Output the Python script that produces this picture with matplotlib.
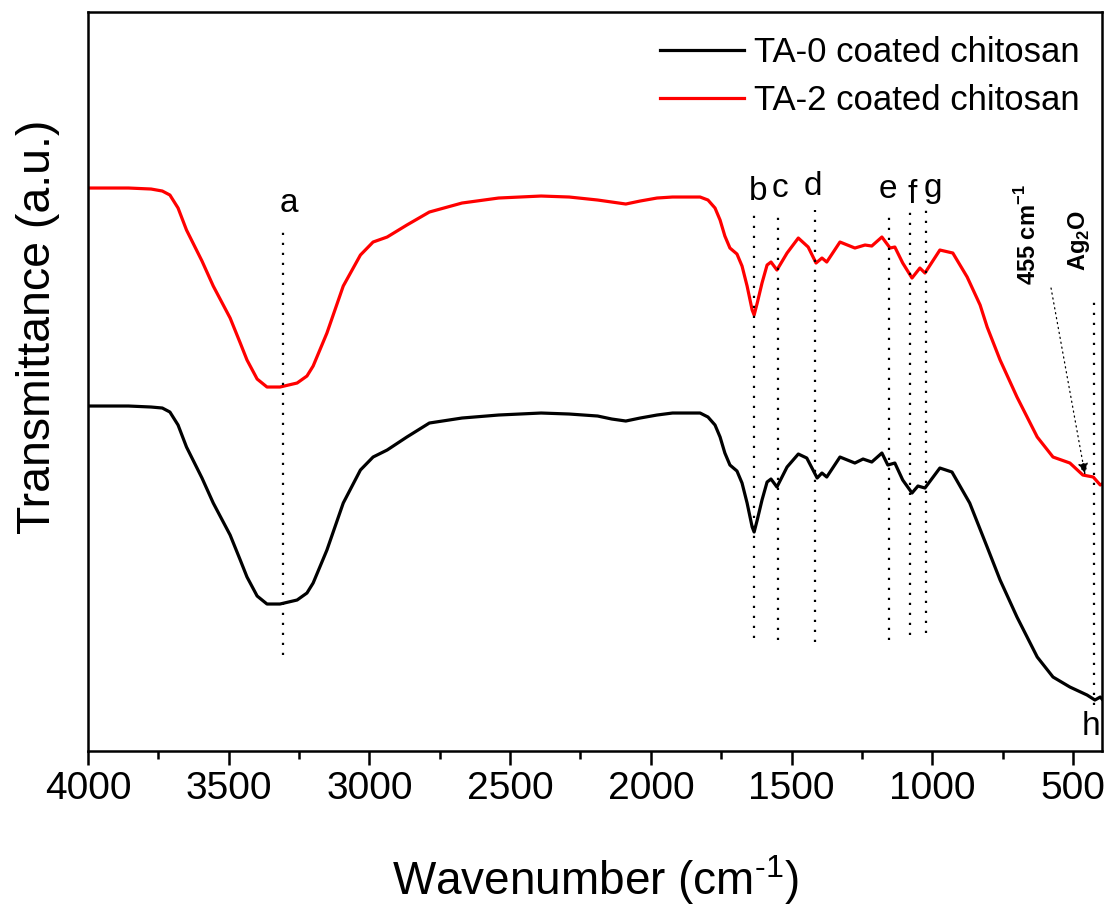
import numpy as np
import matplotlib
matplotlib.use('Agg')
import matplotlib.pyplot as plt
from matplotlib.ticker import MultipleLocator

plt.rcParams['font.family'] = ['Liberation Sans', 'DejaVu Sans']
plt.rcParams['mathtext.fontset'] = 'custom'
plt.rcParams['mathtext.rm'] = 'Liberation Sans'
plt.rcParams['mathtext.bf'] = 'Liberation Sans:bold'

# TA-0 coated chitosan
wn_ta0 = [4000, 3856, 3776, 3736, 3709, 3680, 3650, 3595, 3555, 3495, 3459, 3435, 3399, 3364,
          3318, 3257, 3222, 3200, 3151, 3093, 3032, 2987, 2937, 2867, 2787, 2671, 2541, 2390,
          2290, 2189, 2139, 2089, 2038, 1978, 1923, 1825, 1797, 1772, 1754, 1737, 1719, 1694,
          1676, 1658, 1640, 1633, 1622, 1605, 1587, 1573, 1552, 1516, 1476, 1446, 1409, 1392,
          1375, 1328, 1275, 1246, 1215, 1179, 1158, 1133, 1105, 1072, 1051, 1026, 973, 930,
          867, 805, 759, 699, 627, 571, 511, 450, 422, 403, 397]
t_ta0 = [31.4, 31.4, 31.3, 31.2, 30.8, 29.5, 27.3, 24.2, 21.7, 18.5, 16.0, 14.3, 12.4, 11.6,
         11.6, 12.0, 12.7, 13.7, 17.0, 21.7, 25.0, 26.3, 27.0, 28.3, 29.7, 30.2, 30.5, 30.7,
         30.6, 30.4, 30.1, 29.9, 30.2, 30.5, 30.7, 30.7, 30.3, 29.5, 28.3, 26.7, 25.5, 24.9,
         23.7, 21.7, 19.3, 18.8, 20.0, 22.0, 23.8, 24.1, 23.3, 25.3, 26.6, 26.2, 24.2, 24.7,
         24.3, 26.3, 25.7, 26.1, 25.8, 26.7, 25.5, 25.7, 24.0, 22.7, 23.4, 23.2, 25.2, 24.8,
         21.7, 17.3, 14.0, 10.3, 6.3, 4.3, 3.3, 2.5, 2.0, 2.3, 2.1]

# TA-2 coated chitosan
wn_ta2 = [4000, 3856, 3776, 3736, 3709, 3680, 3650, 3595, 3555, 3495, 3459, 3435, 3399, 3364,
          3318, 3257, 3222, 3200, 3151, 3093, 3032, 2987, 2937, 2867, 2787, 2671, 2541, 2390,
          2290, 2189, 2139, 2089, 2038, 1978, 1923, 1825, 1797, 1772, 1754, 1737, 1719, 1694,
          1676, 1658, 1640, 1633, 1622, 1605, 1587, 1573, 1552, 1516, 1476, 1441, 1413, 1392,
          1375, 1328, 1275, 1239, 1215, 1179, 1150, 1133, 1105, 1072, 1044, 1026, 973, 927,
          876, 830, 805, 759, 699, 627, 571, 511, 465, 428, 403, 397]
t_ta2 = [53.2, 53.2, 53.1, 52.9, 52.5, 51.2, 49.0, 45.9, 43.4, 40.2, 37.7, 36.0, 34.1, 33.3,
         33.3, 33.7, 34.4, 35.4, 38.7, 43.4, 46.5, 47.8, 48.3, 49.5, 50.8, 51.7, 52.2, 52.4,
         52.3, 52.0, 51.8, 51.6, 51.9, 52.2, 52.3, 52.3, 52.0, 51.2, 50.0, 48.4, 47.2, 46.6,
         45.4, 43.4, 41.0, 40.5, 41.7, 43.7, 45.5, 45.8, 45.0, 46.7, 48.2, 47.3, 45.7, 46.2,
         45.8, 47.8, 47.2, 47.5, 47.4, 48.3, 47.2, 47.3, 45.7, 44.2, 45.2, 44.7, 47.0, 46.7,
         44.3, 41.5, 39.3, 36.0, 32.3, 28.3, 26.3, 25.7, 24.5, 24.3, 23.5, 23.6]

# band markers: position, dotted line span, label position
band_names = ['a', 'b', 'c', 'd', 'e', 'f', 'g', 'h']
band_wn = [3307, 1633, 1548, 1415, 1154, 1079, 1022, 425]
band_lo = [6.5, 8.2, 8.0, 7.8, 8.0, 8.5, 8.7, 1.5]
band_hi = [48.8, 50.5, 50.3, 51.0, 50.3, 50.8, 51.0, 42.0]
label_wn = [3286, 1619, 1541, 1424, 1157, 1072, 997, 436]
label_t = [50.8, 52.0, 52.3, 52.5, 52.2, 51.7, 52.3, -1.5]

fig = plt.figure(figsize=(11.14, 9.18), dpi=100)
ax = fig.add_axes([0.0790, 0.1819, 0.9102, 0.8050])

ax.plot(wn_ta0, t_ta0, color='black', lw=2.3, label='TA-0 coated chitosan')
ax.plot(wn_ta2, t_ta2, color='#ff0000', lw=2.3, label='TA-2 coated chitosan')

for name, w, lo, hi, lw_, lt in zip(band_names, band_wn, band_lo, band_hi, label_wn, label_t):
    ax.plot([w, w], [lo, hi], color='black', lw=1.6, ls=(0, (1, 3.5)))
    ax.text(lw_, lt, name, fontsize=24, ha='center', va='baseline')

ax.text(660, 48.5, r'455 cm$^{\mathbf{-1}}$', rotation=90, fontsize=17, fontweight='bold',
        ha='center', va='center')
ax.text(478, 48.0, r'Ag$_{\mathbf{2}}$O', rotation=90, fontsize=17, fontweight='bold',
        ha='center', va='center')
ax.annotate('', xy=(457, 24.5), xytext=(578, 43.2),
            arrowprops=dict(arrowstyle='-|>,head_length=0.7,head_width=0.3', color='black',
                            lw=0.9, ls=(0, (1, 3)), shrinkA=0, shrinkB=0))

ax.set_xlim(4000, 397)
ax.set_ylim(-3.1, 70.8)
ax.xaxis.set_major_locator(MultipleLocator(500))
ax.xaxis.set_minor_locator(MultipleLocator(250))
ax.set_yticks([])
ax.tick_params(axis='x', which='major', direction='out', length=10, width=1.8,
               labelsize=28, pad=4.5)
ax.tick_params(axis='x', which='minor', direction='out', length=6, width=1.8)
for s in ax.spines.values():
    s.set_linewidth(1.8)

ax.set_xlabel(r'Wavenumber (cm$^{\text{-}1}$)', fontsize=33)
ax.xaxis.set_label_coords(0.5, -0.138)
ax.set_ylabel('Transmittance (a.u.)', fontsize=33.5)
ax.yaxis.set_label_coords(-0.0276, 0.574)

ax.legend(loc='upper right', bbox_to_anchor=(0.978, 0.9675), frameon=False, fontsize=25,
          handlelength=2.42, handletextpad=0.29, labelspacing=0.43, borderpad=0,
          borderaxespad=0)

fig.savefig('out.png', dpi=100)
